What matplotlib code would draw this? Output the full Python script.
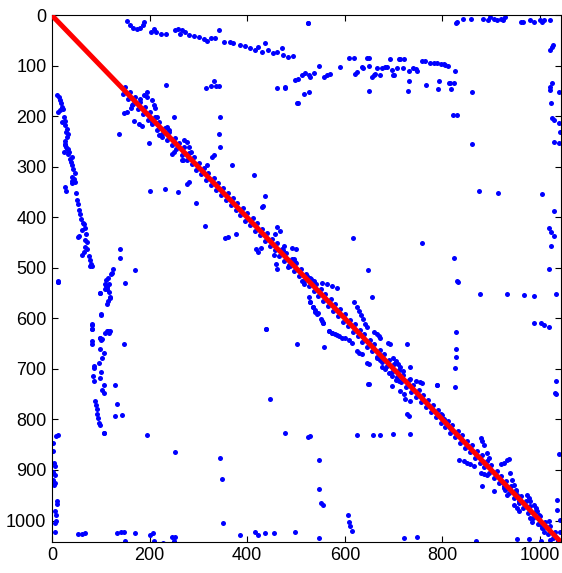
import numpy as np
import matplotlib.pyplot as plt

plt.rcParams['font.family'] = ['Liberation Sans', 'DejaVu Sans']

# axis range of the matrix
n_max = 1042

# dense band of matches along the diagonal
diag_x = [146, 150, 155, 160, 165, 170, 176, 180, 186, 190, 196, 200, 205, 211, 216, 220, 226, 231, 236, 240,
          246, 251, 255, 261, 266, 270, 276, 281, 286, 290, 296, 301, 305, 311, 316, 320, 326, 331, 336, 340,
          346, 351, 356, 360, 366, 371, 376, 380, 386, 391, 396, 400, 406, 411, 416, 420, 426, 431, 436, 440,
          446, 451, 456, 460, 466, 471, 476, 480, 486, 491, 496, 500, 506, 511, 516, 520, 526, 531, 536, 540,
          546, 551, 556, 560, 566, 571, 576, 580, 586, 591, 596, 600, 606, 611, 616, 620, 626, 631, 636, 640,
          646, 651, 656, 660, 666, 671, 676, 680, 686, 691, 696, 700, 706, 711, 716, 720, 726, 731, 736, 740,
          746, 751, 756, 760, 766, 771, 776, 780, 786, 791, 796, 800, 806, 811, 816, 820, 826, 831, 836, 840,
          846, 851, 856, 860, 866, 871, 876, 880, 886, 891, 896, 900, 906, 911, 916, 920, 926, 931, 936, 940,
          946, 951, 956, 960, 966, 971, 976, 980, 986, 991, 996, 1000, 1006, 1011, 1016, 1020, 1026, 1031, 1036]
diag_y = [156, 141, 165, 151, 175, 161, 186, 171, 195, 181, 206, 191, 214, 202, 226, 211, 235, 222, 246, 231,
          256, 242, 264, 252, 276, 261, 286, 272, 295, 281, 306, 292, 314, 302, 326, 311, 335, 322, 346, 331,
          356, 342, 365, 351, 376, 362, 386, 371, 395, 382, 406, 391, 415, 402, 426, 411, 435, 422, 446, 431,
          456, 442, 465, 451, 476, 462, 486, 471, 495, 482, 506, 491, 515, 502, 526, 511, 535, 522, 546, 531,
          556, 542, 565, 551, 576, 562, 586, 571, 595, 582, 606, 591, 615, 602, 626, 611, 635, 622, 646, 631,
          656, 642, 665, 651, 676, 662, 686, 671, 695, 682, 706, 691, 715, 702, 726, 711, 735, 722, 746, 731,
          756, 742, 765, 751, 776, 762, 786, 771, 795, 782, 806, 791, 815, 802, 826, 811, 835, 822, 846, 831,
          856, 842, 865, 851, 876, 862, 886, 871, 895, 882, 906, 891, 915, 902, 926, 911, 935, 922, 946, 931,
          956, 942, 965, 951, 976, 962, 986, 971, 995, 982, 1006, 991, 1015, 1002, 1026, 1011, 1035, 1022, 1040]

# long arc along the top
top_arc_x = [154, 160, 166, 174, 180, 186, 189, 202, 209, 213, 223, 234, 253, 258, 267, 263, 273, 281, 291, 302,
             312, 318, 326, 334, 343, 353, 365, 371, 386, 396, 406, 416, 423, 431, 437, 443, 453, 462, 472, 474,
             484, 494, 524]
top_arc_y = [11, 19, 25, 27, 24, 19, 13, 33, 27, 33, 36, 37, 29, 27, 29, 37, 33, 39, 41, 43,
             47, 51, 45, 45, 29, 53, 53, 55, 59, 61, 65, 69, 63, 73, 55, 69, 75, 73, 65, 79,
             83, 81, 14]

# second arc (upper right)
arc2_x = [498, 505, 512, 519, 526, 529, 536, 548, 558, 563, 570, 591, 609, 618, 621, 625, 635, 638, 645, 650,
          649, 656, 659, 662, 666, 673, 676, 683, 686, 693, 697, 700, 461, 478, 517, 527, 503, 649,
          710, 714, 722, 699, 707, 719, 731, 740, 745, 748, 758, 765, 775, 782, 789, 796, 803, 806, 811,
          825, 731, 729, 767, 792, 790, 813, 816, 823, 818, 861, 829, 861]
arc2_y = [128, 125, 118, 113, 117, 122, 113, 100, 122, 118, 115, 103, 85, 85, 115, 112, 102, 104, 85, 85,
          100, 122, 118, 115, 105, 118, 105, 102, 102, 87, 108, 118, 143, 143, 155, 151, 173, 149,
          87, 87, 87, 118, 104, 104, 110, 105, 106, 110, 90, 90, 94, 94, 94, 96, 96, 98, 100,
          109, 130, 149, 137, 130, 146, 133, 133, 133, 146, 151, 197, 255]

# points hugging the top and right edges
edge_x = [827, 830, 843, 859, 883, 893, 898, 905, 911, 919, 924, 929, 960, 965, 980, 987, 999, 1004, 1009, 1021,
          1021, 1025, 1027, 1020, 1021, 1025, 1038, 1023, 1025, 1028, 1038, 1040, 1028, 1038,
          1028, 1019, 1023, 1028, 1023, 1019, 1032, 1032, 1030, 1038, 1035, 1035, 1040, 1040]
edge_y = [15, 12, 6, 6, 6, 9, 4, 7, 9, 6, 9, 4, 12, 12, 9, 12, 9, 12, 9, 9,
          68, 62, 58, 141, 148, 134, 152, 173, 204, 206, 212, 231, 251, 252,
          388, 420, 428, 436, 456, 502, 724, 749, 748, 869, 959, 979, 999, 1022]

# left column of points
left_x = [10, 14, 17, 19, 20, 22, 17, 12, 24, 26, 20, 27, 31, 29, 33, 31, 27, 26, 29, 33, 34,
          26, 24, 31, 33, 36, 40, 38, 41, 44, 48, 41, 42, 40, 46, 48, 27, 29, 49, 51, 53, 56, 58, 60,
          63, 65, 67, 61, 55, 53, 70, 68, 72, 68, 72, 65, 61, 75, 77, 79, 77, 81, 12,
          126, 123, 120, 115, 111, 116, 113, 109, 118, 115, 113, 98, 101, 82, 82, 113, 116, 99, 103,
          109, 111, 113, 117, 99, 118, 150, 13, 101, 118, 109, 114, 99, 100, 99, 106, 103, 97, 101, 99,
          106, 103, 107, 83, 83, 83, 83, 86, 86, 85, 86, 88, 90, 92, 93, 95, 97, 99, 107]
left_y = [158, 161, 168, 174, 181, 186, 188, 191, 201, 208, 211, 217, 224, 231, 234, 241, 249, 254, 260, 264, 270,
          257, 270, 264, 274, 284, 280, 290, 297, 304, 312, 320, 327, 332, 323, 330, 340, 347, 352, 366, 373, 386, 394, 403,
          410, 413, 421, 425, 436, 439, 433, 445, 449, 458, 462, 469, 474, 476, 484, 492, 497, 497, 525,
          502, 509, 512, 519, 524, 531, 537, 542, 558, 565, 572, 550, 593, 613, 621, 625, 628, 638, 641,
          531, 535, 542, 548, 550, 560, 529, 527, 592, 625, 628, 625, 638, 643, 661, 668, 679, 688, 705, 717,
          732, 741, 747, 611, 621, 645, 651, 694, 699, 714, 724, 764, 772, 780, 789, 797, 807, 811, 827]

# vertical strip at the left edge near the bottom
strip_x = [13, 8, 3, 3, 4, 6, 3, 6, 3, 6, 4, 10, 10, 6, 8, 8, 6, 6]
strip_y = [831, 833, 846, 862, 886, 893, 903, 909, 919, 926, 930, 962, 968, 982, 989, 1001, 1005, 1022]

# row of points along the bottom
bottom_x = [54, 61, 68, 133, 141, 148, 150, 170, 201, 207, 210, 228, 245, 252, 250, 386, 416, 423, 437, 454,
            498, 548, 722, 747, 868, 953, 977, 1001, 1020, 1037, 606, 608, 611, 615, 548, 551, 555]
bottom_y = [1027, 1026, 1025, 1025, 1023, 1023, 1040, 1025, 1028, 1025, 1040, 1044, 1032, 1032, 1040, 1028, 1023,
            1028, 1025, 1025, 1022, 1034, 1034, 1032, 1040, 1036, 1036, 1040, 1038, 1042, 989, 1003, 1010, 1020,
            937, 966, 969]

# branches and clusters next to the diagonal
branch_x = [147, 154, 161, 164, 181, 188, 195, 195, 205, 209, 212, 215, 205, 233, 168, 178, 185, 137, 198, 250,
            236, 239, 219, 226, 270, 277, 280, 315, 325, 332, 335, 342, 345, 342, 345, 284, 332,
            245, 250, 266, 269, 317, 328, 369, 414, 201, 232, 259, 276, 280, 295, 314, 355, 360, 377,
            437, 432, 430, 418, 428, 423, 461, 468, 457, 475, 473, 492, 500, 454, 459, 461, 495, 497, 483, 487,
            439, 526, 529, 535, 539, 543, 553, 555, 553, 563, 574, 584, 512, 516, 522, 529, 536, 567, 574, 584,
            529, 535, 539, 546, 551, 555, 619, 624, 628, 633, 637, 642, 645, 660, 665, 669, 673, 688, 693,
            567, 574, 580, 587, 594, 601, 608, 615, 624, 628, 635, 645, 649, 557, 649,
            666, 673, 676, 683, 690, 697, 704, 710, 699, 704, 708, 714, 719, 733, 697, 714, 721, 724, 727, 731,
            734, 727, 734, 745, 753, 758, 789, 827, 827, 827, 825, 825,
            796, 803, 809, 816, 878, 881, 885, 892, 895, 833, 844, 851, 857, 864, 878, 885, 892, 881, 905,
            919, 926, 933, 936, 939, 922, 926, 929, 933, 943, 946, 950, 953, 956, 946, 952, 956,
            974, 977, 980, 987, 991, 994, 998, 980, 984, 1001, 1004, 1008, 1018]
branch_y = [194, 191, 184, 178, 165, 158, 151, 161, 168, 178, 184, 201, 211, 138, 208, 214, 218, 234, 252, 201,
            221, 227, 237, 241, 247, 251, 261, 143, 139, 130, 139, 139, 201, 234, 261, 271, 277,
            274, 270, 286, 286, 297, 280, 297, 315, 347, 343, 350, 333, 330, 371, 416, 441, 438, 433,
            357, 378, 380, 462, 460, 469, 419, 426, 433, 456, 464, 460, 462, 474, 492, 502, 482, 489, 499, 496,
            620, 558, 568, 578, 588, 592, 605, 608, 529, 532, 535, 539, 525, 532, 515, 519, 525, 625, 628, 633,
            568, 577, 584, 590, 601, 608, 568, 577, 585, 593, 601, 610, 617, 626, 630, 635, 638, 648, 650,
            625, 628, 631, 635, 638, 639, 643, 648, 664, 668, 671, 688, 691, 656, 729,
            678, 683, 697, 701, 707, 714, 721, 724, 678, 684, 691, 697, 704, 697, 734, 744, 750, 759, 790, 793,
            764, 651, 719, 723, 726, 727, 731, 627, 660, 676, 699, 736,
            790, 800, 807, 817, 836, 843, 850, 866, 876, 880, 883, 886, 889, 893, 906, 908, 909, 931, 942,
            889, 886, 881, 878, 906, 923, 932, 939, 949, 919, 929, 939, 949, 962, 969, 975, 982,
            949, 956, 962, 969, 975, 982, 989, 995, 1002, 1009, 1015, 1022, 1001]

# isolated points
lone_x = [12, 195, 252, 345, 349, 351, 439, 447, 478, 502, 525, 478, 502, 617, 759, 824, 832, 648, 874, 913,
          1003, 822, 656, 830, 877, 933, 967, 987, 1032, 987, 1001, 1008, 1018, 625, 658, 673, 698, 734,
          524, 528, 548, 648, 789, 133, 129, 144, 107, 170, 140, 140, 147, 129]
lone_y = [527, 831, 865, 877, 918, 1004, 621, 760, 827, 651, 15, 142, 174, 440, 450, 480, 527, 504, 347, 351,
          353, 198, 558, 525, 551, 551, 554, 555, 551, 608, 608, 613, 617, 831, 831, 831, 828, 828,
          835, 833, 880, 730, 732, 770, 793, 791, 827, 504, 462, 480, 651, 732]

fig = plt.figure(figsize=(5.62, 5.73), dpi=100)
ax = fig.add_axes([0.0925, 0.0546, 0.905, 0.9184])

groups = [(diag_x, diag_y), (top_arc_x, top_arc_y), (arc2_x, arc2_y), (edge_x, edge_y),
          (left_x, left_y), (strip_x, strip_y), (bottom_x, bottom_y), (branch_x, branch_y),
          (lone_x, lone_y)]
for gx, gy in groups:
    ax.plot(gx, gy, 'o', color='blue', markersize=3.6, markeredgewidth=0, zorder=2)

ax.plot([0, n_max], [0, n_max], color='red', linewidth=3.6, solid_capstyle='butt', zorder=3)

ax.set_xlim(0, n_max)
ax.set_ylim(n_max, 0)
ax.set_xticks(np.arange(0, 1001, 200))
ax.set_yticks(np.arange(0, 1001, 100))
ax.tick_params(direction='in', length=4, width=0.8, labelsize=13, top=True, right=True, pad=4)
for s in ax.spines.values():
    s.set_linewidth(0.8)

fig.savefig('out.png', dpi=100)
